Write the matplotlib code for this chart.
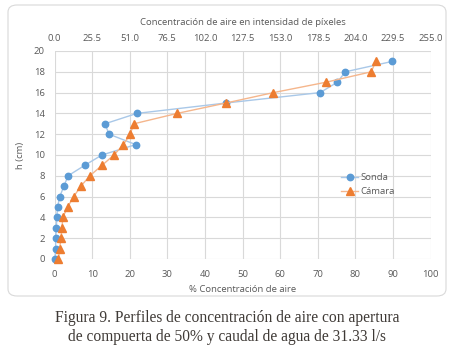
import matplotlib
matplotlib.use("Agg")
import matplotlib.pyplot as plt
from matplotlib.patches import FancyBboxPatch
from matplotlib.ticker import FixedLocator, FormatStrFormatter

h = list(range(20))
sonda = [0.1, 0.3, 0.3, 0.5, 0.6, 0.8, 1.4, 2.5, 3.6, 8.0, 12.6, 21.6, 14.5, 13.4, 21.9,
         45.6, 70.6, 75.2, 77.3, 89.8]
camara = [1.0, 1.4, 1.7, 2.0, 2.2, 3.5, 5.1, 7.0, 9.4, 12.6, 15.8, 18.3, 20.1, 21.1, 32.6,
          45.6, 58.2, 72.2, 84.2, 85.4]
bottom_ticks = list(range(0, 101, 10))
top_ticks = [0.0, 25.5, 51.0, 76.5, 102.0, 127.5, 153.0, 178.5, 204.0, 229.5, 255.0]

txt = "#595959"
plt.rcParams['font.family'] = ['Open Sans', 'DejaVu Sans']

fig = plt.figure(figsize=(4.54, 3.54), dpi=100)
fig.patch.set_facecolor("white")
box = FancyBboxPatch((8/454, 1-296/354), (446-8)/454, (296-5)/354,
                     boxstyle="round,pad=0,rounding_size=0.02",
                     transform=fig.transFigure, facecolor="none",
                     edgecolor="#D9D9D9", linewidth=0.8, zorder=-1)
fig.patches.append(box)

ax = fig.add_axes([54.5/454, 1-259/354, (430.7-54.5)/454, (259-51)/354])
ax.patch.set_alpha(0)
ax.set_xlim(0, 100)
ax.set_ylim(0, 20)
ax.set_xticks(bottom_ticks)
ax.set_yticks(range(0, 21, 2))
ax.grid(True, color="#D9D9D9", linewidth=0.8)
ax.set_axisbelow(True)
for s in ax.spines.values():
    s.set_visible(False)
ax.tick_params(axis="x", length=0, labelsize=6.8, colors=txt, pad=8)
ax.tick_params(axis="y", length=0, labelsize=6.8, colors=txt, pad=7)

ax.plot(sonda, h, color="#A9C8E8", linewidth=1.0, marker="o", markersize=4.6,
        markerfacecolor="#5B9BD5", markeredgecolor="#5B9BD5", label="Sonda", zorder=3,
        clip_on=False)
ax.plot(camara, h, color="#F5B68C", linewidth=1.0, marker="^", markersize=5.2,
        markerfacecolor="#ED7D31", markeredgecolor="#ED7D31", label="Cámara", zorder=3,
        clip_on=False)

ax.set_xlabel("% Concentración de aire", fontsize=6.8, color=txt, labelpad=4)
ax.set_ylabel("h (cm)", fontsize=6.8, color=txt, labelpad=6)

sec = ax.secondary_xaxis('top', functions=(lambda x: x*2.55, lambda x: x/2.55))
sec.xaxis.set_major_locator(FixedLocator(top_ticks))
sec.xaxis.set_major_formatter(FormatStrFormatter('%.1f'))
sec.tick_params(length=0, labelsize=6.8, colors=txt, pad=6)
for s in sec.spines.values():
    s.set_visible(False)
sec.set_xlabel("Concentración de aire en intensidad de píxeles", fontsize=6.8, color=txt, labelpad=6)

leg = ax.legend(loc="upper left", bbox_to_anchor=(0.74, 0.455), frameon=False,
                fontsize=6.8, handlelength=1.8, handletextpad=0.25, labelspacing=0.55,
                numpoints=1)
for t in leg.get_texts():
    t.set_color(txt)

fig.text(0.5, 1-318/354, "Figura 9. Perfiles de concentración de aire con apertura",
         ha="center", va="center", fontsize=11.2, color="#3F3A36", family=["Liberation Serif"])
fig.text(0.5, 1-337/354, "de compuerta de 50% y caudal de agua de 31.33 l/s",
         ha="center", va="center", fontsize=11.2, color="#3F3A36", family=["Liberation Serif"])

fig.savefig("out.png", dpi=100, facecolor="white")
